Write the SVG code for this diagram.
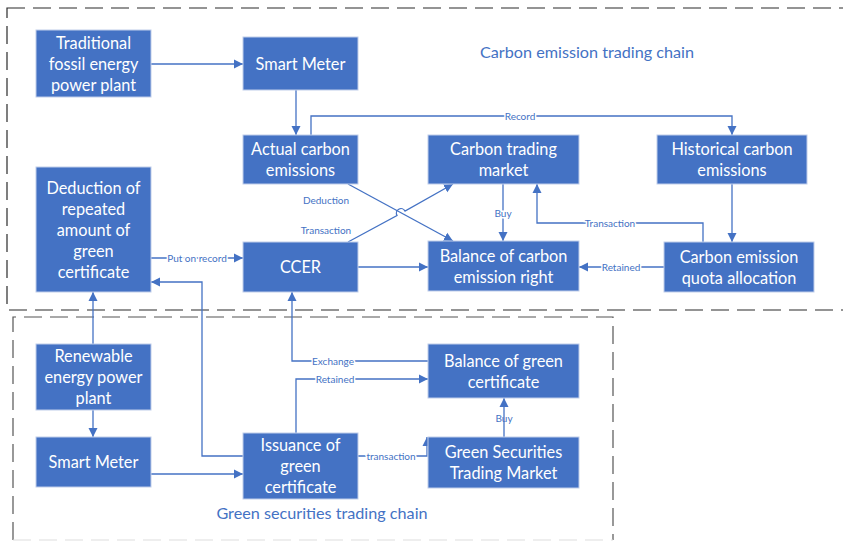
<svg xmlns="http://www.w3.org/2000/svg" width="843" height="541" viewBox="0 0 843 541">
<style>
.n rect{fill:#4472C4;stroke:#BFCDEA;stroke-width:1}
.n text{fill:#fff;font-family:Lato,"Open Sans",sans-serif;font-size:16.3px;text-anchor:middle}
.c path,.c line{fill:none;stroke:#4472C4;stroke-width:1.3}
.lb{fill:#4472C4;font-family:Lato,"Open Sans",sans-serif;font-size:10px;text-anchor:middle;stroke:#fff;stroke-width:3;paint-order:stroke}
.t{fill:#4472C4;font-family:Lato,"Open Sans",sans-serif;font-size:16.2px;text-anchor:middle}
.box{fill:none;stroke:#2a2a2a;stroke-width:1.2;stroke-dasharray:18 8}
</style>
<defs>
<marker id="a" markerWidth="10" markerHeight="10" refX="9" refY="5" orient="auto" markerUnits="userSpaceOnUse">
<path d="M0,0.5 L9,5 L0,9.5 Z" fill="#4472C4"/>
</marker>
</defs>
<rect width="843" height="541" fill="#fff"/>
<g id="frames">
<rect class="box" x="7" y="8" width="860" height="302"/>
<path class="box" d="M13,540 V317 H613 V540" style="stroke:#555"/>
<line x1="13" y1="540" x2="613" y2="540" stroke="#ddd" stroke-width="1" stroke-dasharray="18 8"/>
<text class="t" x="587" y="58">Carbon emission trading chain</text>
<text class="t" x="322" y="519">Green securities trading chain</text>
</g>
<g class="c" id="connectors">
<line x1="151" y1="64" x2="243" y2="64" marker-end="url(#a)"/>
<line x1="296" y1="90" x2="296" y2="135" marker-end="url(#a)"/>
<path d="M311,135 V116 H732 V135" marker-end="url(#a)"/>
<line x1="348" y1="184" x2="453" y2="241" marker-end="url(#a)"/>
<path d="M348,242 L397,215.5 A4,4 0 0 1 405,211 L453,184" marker-end="url(#a)"/>
<line x1="503" y1="184" x2="503" y2="241" marker-end="url(#a)"/>
<path d="M703,242 V223 H537 V184" marker-end="url(#a)"/>
<line x1="732" y1="184" x2="732" y2="242" marker-end="url(#a)"/>
<line x1="664" y1="267" x2="579" y2="267" marker-end="url(#a)"/>
<line x1="358" y1="267" x2="428" y2="267" marker-end="url(#a)"/>
<line x1="151" y1="258" x2="243" y2="258" marker-end="url(#a)"/>
<line x1="93" y1="344" x2="93" y2="292" marker-end="url(#a)"/>
<line x1="93" y1="410" x2="93" y2="437" marker-end="url(#a)"/>
<path d="M243,456 H202 V282 H151" marker-end="url(#a)"/>
<line x1="151" y1="474" x2="243" y2="474" marker-end="url(#a)"/>
<path d="M428,361 H292 V292" marker-end="url(#a)"/>
<path d="M296,433 V379 H428" marker-end="url(#a)"/>
<path d="M358,456 H427 V437" marker-end="url(#a)"/>
<line x1="504" y1="437" x2="504" y2="398" marker-end="url(#a)"/>
<text class="lb" x="520" y="119.5">Record</text>
<text class="lb" x="326" y="203.5" style="stroke:none">Deduction</text>
<text class="lb" x="326" y="233.5" style="stroke:none">Transaction</text>
<text class="lb" x="503" y="216.5">Buy</text>
<text class="lb" x="610" y="226.5">Transaction</text>
<text class="lb" x="621" y="270.5">Retained</text>
<text class="lb" x="197" y="261.5">Put on record</text>
<text class="lb" x="333" y="364.5">Exchange</text>
<text class="lb" x="335" y="382.5">Retained</text>
<text class="lb" x="391" y="459.5">transaction</text>
<text class="lb" x="504" y="421.5" style="stroke:none">Buy</text>
</g>
<g class="n" id="fossil"><rect x="36" y="30" width="115" height="67"/><text x="93.5" y="48.5">Traditional<tspan x="93.5" dy="21">fossil energy</tspan><tspan x="93.5" dy="21">power plant</tspan></text></g>
<g class="n" id="meter1"><rect x="243" y="37" width="115" height="53"/><text x="300.5" y="69.5">Smart Meter</text></g>
<g class="n" id="actual"><rect x="243" y="135" width="115" height="49"/><text x="300.5" y="154.5">Actual carbon<tspan x="300.5" dy="21">emissions</tspan></text></g>
<g class="n" id="market"><rect x="428" y="135" width="151" height="49"/><text x="503.5" y="154.5">Carbon trading<tspan x="503.5" dy="21">market</tspan></text></g>
<g class="n" id="historical"><rect x="657" y="135" width="150" height="49"/><text x="732" y="154.5">Historical carbon<tspan x="732" dy="21">emissions</tspan></text></g>
<g class="n" id="deduction"><rect x="36" y="167" width="115" height="125"/><text x="93.5" y="193.5">Deduction of<tspan x="93.5" dy="21">repeated</tspan><tspan x="93.5" dy="21">amount of</tspan><tspan x="93.5" dy="21">green</tspan><tspan x="93.5" dy="21">certificate</tspan></text></g>
<g class="n" id="ccer"><rect x="243" y="242" width="115" height="50"/><text x="300.5" y="272.5">CCER</text></g>
<g class="n" id="balanceCarbon"><rect x="428" y="241" width="151" height="50"/><text x="503.5" y="261.5">Balance of carbon<tspan x="503.5" dy="21">emission right</tspan></text></g>
<g class="n" id="quota"><rect x="664" y="242" width="150" height="50"/><text x="739" y="262.5">Carbon emission<tspan x="739" dy="21">quota allocation</tspan></text></g>
<g class="n" id="renewable"><rect x="36" y="344" width="115" height="66"/><text x="93.5" y="361.5">Renewable<tspan x="93.5" dy="21">energy power</tspan><tspan x="93.5" dy="21">plant</tspan></text></g>
<g class="n" id="meter2"><rect x="36" y="437" width="115" height="50"/><text x="93.5" y="467.5">Smart Meter</text></g>
<g class="n" id="issuance"><rect x="243" y="433" width="115" height="66"/><text x="300.5" y="450.5">Issuance of<tspan x="300.5" dy="21">green</tspan><tspan x="300.5" dy="21">certificate</tspan></text></g>
<g class="n" id="balanceGreen"><rect x="428" y="344" width="151" height="54"/><text x="503.5" y="366.5">Balance of green<tspan x="503.5" dy="21">certificate</tspan></text></g>
<g class="n" id="greenMarket"><rect x="428" y="437" width="151" height="51"/><text x="503.5" y="457.5">Green Securities<tspan x="503.5" dy="21">Trading Market</tspan></text></g>
</svg>
